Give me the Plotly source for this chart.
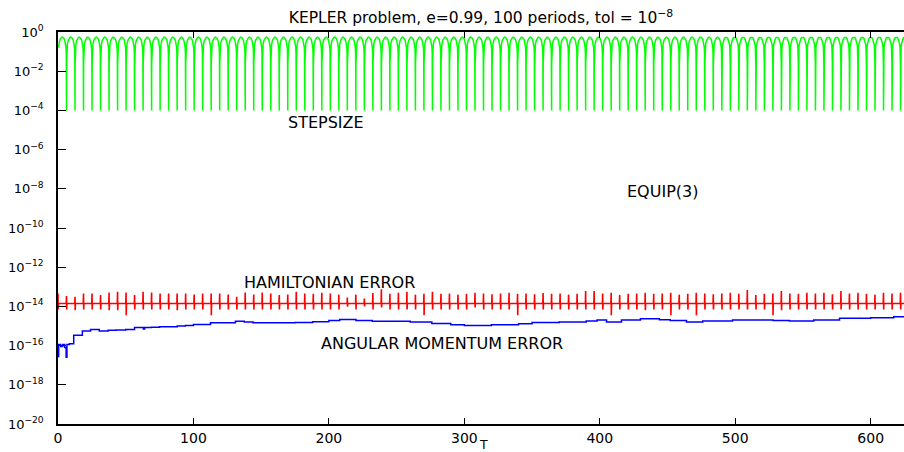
import plotly.graph_objects as go

# ---------------- data ----------------
N_PERIODS = 100
PERIOD = 6.2832
STEP_START_PHASE = 0.06   # the step-size curve enters the plot just after a pericentre

# one orbit of the step size (phase within a period, log10 stepsize)
STEP_PHASE = [0.0, 0.003, 0.01, 0.03, 0.06, 0.1, 0.2, 0.3, 0.4, 0.5,
              0.6, 0.7, 0.8, 0.9, 0.94, 0.97, 0.99, 0.997, 1.0]
STEP_LOG = [-4.0, -2.5, -1.6, -1.1, -0.8, -0.63, -0.44, -0.33, -0.28, -0.26,
            -0.28, -0.33, -0.44, -0.63, -0.8, -1.1, -1.6, -2.5, -4.0]

# Hamiltonian error: baseline and spike extremes at each pericentre passage (log10)
HAM_BASE_LOG = -13.85
HAM_HI_LOG = [
    -13.34, -13.47, -13.51, -13.34, -13.34, -13.42, -13.29, -13.25, -13.29, -13.42,
    -13.25, -13.29, -13.34, -13.34, -13.34, -13.34, -13.39, -13.34, -13.34, -13.34,
    -13.39, -13.51, -13.29, -13.39, -13.29, -13.34, -13.42, -13.39, -13.25, -13.34,
    -13.36, -13.30, -13.34, -13.40, -13.55, -13.40, -13.60, -13.32, -13.13, -13.36,
    -13.30, -13.25, -13.40, -13.36, -13.25, -13.36, -13.34, -13.40, -13.36, -13.30,
    -13.34, -13.38, -13.34, -13.30, -13.36, -13.34, -13.38, -13.32, -13.36, -13.34,
    -13.40, -13.36, -13.22, -13.22, -13.34, -13.30, -13.42, -13.36, -13.34, -13.30,
    -13.36, -13.34, -13.30, -13.40, -13.36, -13.30, -13.34, -13.38, -13.34, -13.30,
    -13.36, -13.16, -13.42, -13.36, -13.34, -13.22, -13.34, -13.36, -13.30, -13.34,
    -13.30, -13.38, -13.22, -13.34, -13.30, -13.36, -13.40, -13.30, -13.34, -13.30,
]
HAM_LO_LOG = [
    -14.16, -14.16, -14.19, -14.16, -14.16, -14.16, -14.19, -14.19, -14.45, -14.16,
    -14.16, -14.16, -14.16, -14.16, -14.19, -14.16, -14.16, -14.16, -14.45, -14.16,
    -14.16, -14.16, -14.16, -14.16, -14.16, -14.16, -14.16, -14.16, -14.16, -14.16,
    -14.16, -14.16, -14.16, -14.16, -14.02, -14.16, -14.00, -14.16, -14.05, -14.16,
    -14.16, -14.16, -14.16, -14.45, -14.16, -14.16, -14.16, -14.16, -14.16, -14.05,
    -14.16, -14.16, -14.16, -14.16, -14.45, -14.16, -14.16, -14.16, -14.16, -14.16,
    -14.16, -14.16, -14.16, -14.16, -14.16, -14.45, -14.16, -14.16, -14.16, -14.20,
    -14.16, -14.16, -14.45, -14.16, -14.16, -14.45, -14.16, -14.16, -14.16, -14.16,
    -14.16, -14.16, -14.16, -14.16, -14.45, -14.20, -14.16, -14.16, -14.16, -14.16,
    -14.16, -14.16, -14.16, -14.16, -14.16, -14.16, -14.16, -14.16, -14.16, -14.16,
]

# angular momentum error: staircase (time of step, log10 value after step)
ANG_T = [0.0, 0.5, 2.0, 3.5, 5.0, 6.0, 6.6, 8.5, 11.6, 18.0, 24.0, 30.5, 37.0,
         43.0, 50.0, 56.5, 63.0, 64.0, 69.0, 75.0, 88.0, 94.0, 100.0, 112.6,
         131.0, 137.5, 144.0, 175.0, 188.0, 200.0, 208.0, 220.0, 232.0, 260.0,
         276.0, 290.0, 300.0, 312.0, 320.0, 340.0, 350.0, 370.0, 390.0, 398.0,
         405.0, 416.0, 430.0, 444.0, 452.0, 464.0, 476.0, 498.0, 528.0, 540.0,
         558.0, 577.0, 590.0, 600.0, 617.0, 628.3]
ANG_LOG = [-16.55, -15.95, -16.05, -15.95, -16.10, -16.60, -15.95, -15.90, -15.47,
           -15.26, -15.18, -15.25, -15.22, -15.20, -15.18, -15.08, -15.15, -15.08,
           -15.06, -15.04, -15.00, -14.97, -14.92, -14.84, -14.76, -14.80, -14.84,
           -14.82, -14.78, -14.72, -14.67, -14.72, -14.76, -14.80, -14.87, -14.93,
           -14.97, -14.98, -14.93, -14.88, -14.82, -14.80, -14.75, -14.70, -14.79,
           -14.70, -14.63, -14.68, -14.72, -14.79, -14.74, -14.70, -14.72, -14.74,
           -14.70, -14.61, -14.60, -14.58, -14.53, -14.53]

Y_TICK_EXP = [0, -2, -4, -6, -8, -10, -12, -14, -16, -18, -20]
X_TICKS = [0, 100, 200, 300, 400, 500, 600]

TITLE = "KEPLER problem, e=0.99, 100 periods, tol = 10<sup>\u22128</sup>"
X_TITLE = "T"
LABELS = [  # text, x (T), log10 y
    ("STEPSIZE", 198.0, -4.63),
    ("EQUIP(3)", 446.5, -8.16),
    ("HAMILTONIAN ERROR", 200.3, -12.78),
    ("ANGULAR MOMENTUM ERROR", 283.3, -15.87),
]

# ---------------- build traces ----------------
step_x, step_y = [], []
for k in range(N_PERIODS):
    for j, (ph, lg) in enumerate(zip(STEP_PHASE, STEP_LOG)):
        if k > 0 and j == 0:
            continue
        if k == 0 and ph < STEP_START_PHASE:
            continue
        step_x.append((k + ph) * PERIOD)
        step_y.append(10 ** lg)

ham_x, ham_y = [0.0], [10 ** HAM_BASE_LOG]
for k in range(N_PERIODS):
    tk = k * PERIOD
    ham_x += [tk - 0.2, tk, tk + 0.1, tk + 0.3]
    ham_y += [10 ** HAM_BASE_LOG, 10 ** HAM_HI_LOG[k], 10 ** HAM_LO_LOG[k], 10 ** HAM_BASE_LOG]
ham_x.append(N_PERIODS * PERIOD)
ham_y.append(10 ** HAM_BASE_LOG)

ang_y = [10 ** v for v in ANG_LOG]

FONT = "DejaVu Sans, Verdana, sans-serif"

fig = go.Figure()
fig.add_trace(go.Scatter(x=step_x, y=step_y, mode="lines",
                         line=dict(color="#00ff00", width=1.5), showlegend=False))
fig.add_trace(go.Scatter(x=ham_x, y=ham_y, mode="lines",
                         line=dict(color="#ff0000", width=1.6), showlegend=False))
fig.add_trace(go.Scatter(x=ANG_T, y=ang_y, mode="lines", line_shape="hv",
                         line=dict(color="#0000ff", width=1.5), showlegend=False))

for txt, xx, yy in LABELS:
    fig.add_annotation(x=xx, y=yy, xref="x", yref="y", text=txt, showarrow=False,
                       font=dict(family=FONT, size=16, color="black"),
                       xanchor="center", yanchor="middle")

# x-axis title placed under the tick labels
fig.add_annotation(x=(483 - 58) / 846, y=-(444.5 - 424) / 392, xref="paper", yref="paper",
                   text=X_TITLE, showarrow=False, xanchor="center", yanchor="middle",
                   borderpad=0, font=dict(family=FONT, size=12.5, color="black"))

fig.update_layout(
    width=904, height=452,
    margin=dict(l=58, r=0, t=32, b=28),
    paper_bgcolor="white", plot_bgcolor="white",
    font=dict(family=FONT, size=13, color="black"),
    title=dict(text=TITLE, x=481 / 904, xref="container", xanchor="center",
               y=1 - 18 / 452, yref="container", yanchor="middle",
               font=dict(family=FONT, size=15.5, color="black")),
    showlegend=False,
)
fig.update_xaxes(
    range=[0, 624.6], tickvals=X_TICKS, ticktext=[str(v) for v in X_TICKS],
    ticks="inside", ticklen=6, tickcolor="black", tickwidth=1,
    showline=True, linecolor="black", linewidth=1.5, mirror="ticks",
    showgrid=False, zeroline=False, ticklabelstandoff=0,
    tickfont=dict(family=FONT, size=14, color="black"),
)
fig.update_yaxes(
    type="log", range=[-20, 0],
    tickvals=[10 ** e for e in Y_TICK_EXP],
    ticktext=["10<sup>%s</sup>" % (str(e).replace("-", "\u2212")) for e in Y_TICK_EXP],
    ticks="inside", ticklen=8, tickcolor="black", tickwidth=1,
    showline=True, linecolor="black", linewidth=1.5, mirror=False,
    showgrid=False, zeroline=False, ticklabelstandoff=10,
    tickfont=dict(family=FONT, size=13, color="black"),
)

fig.write_html("out.html")
